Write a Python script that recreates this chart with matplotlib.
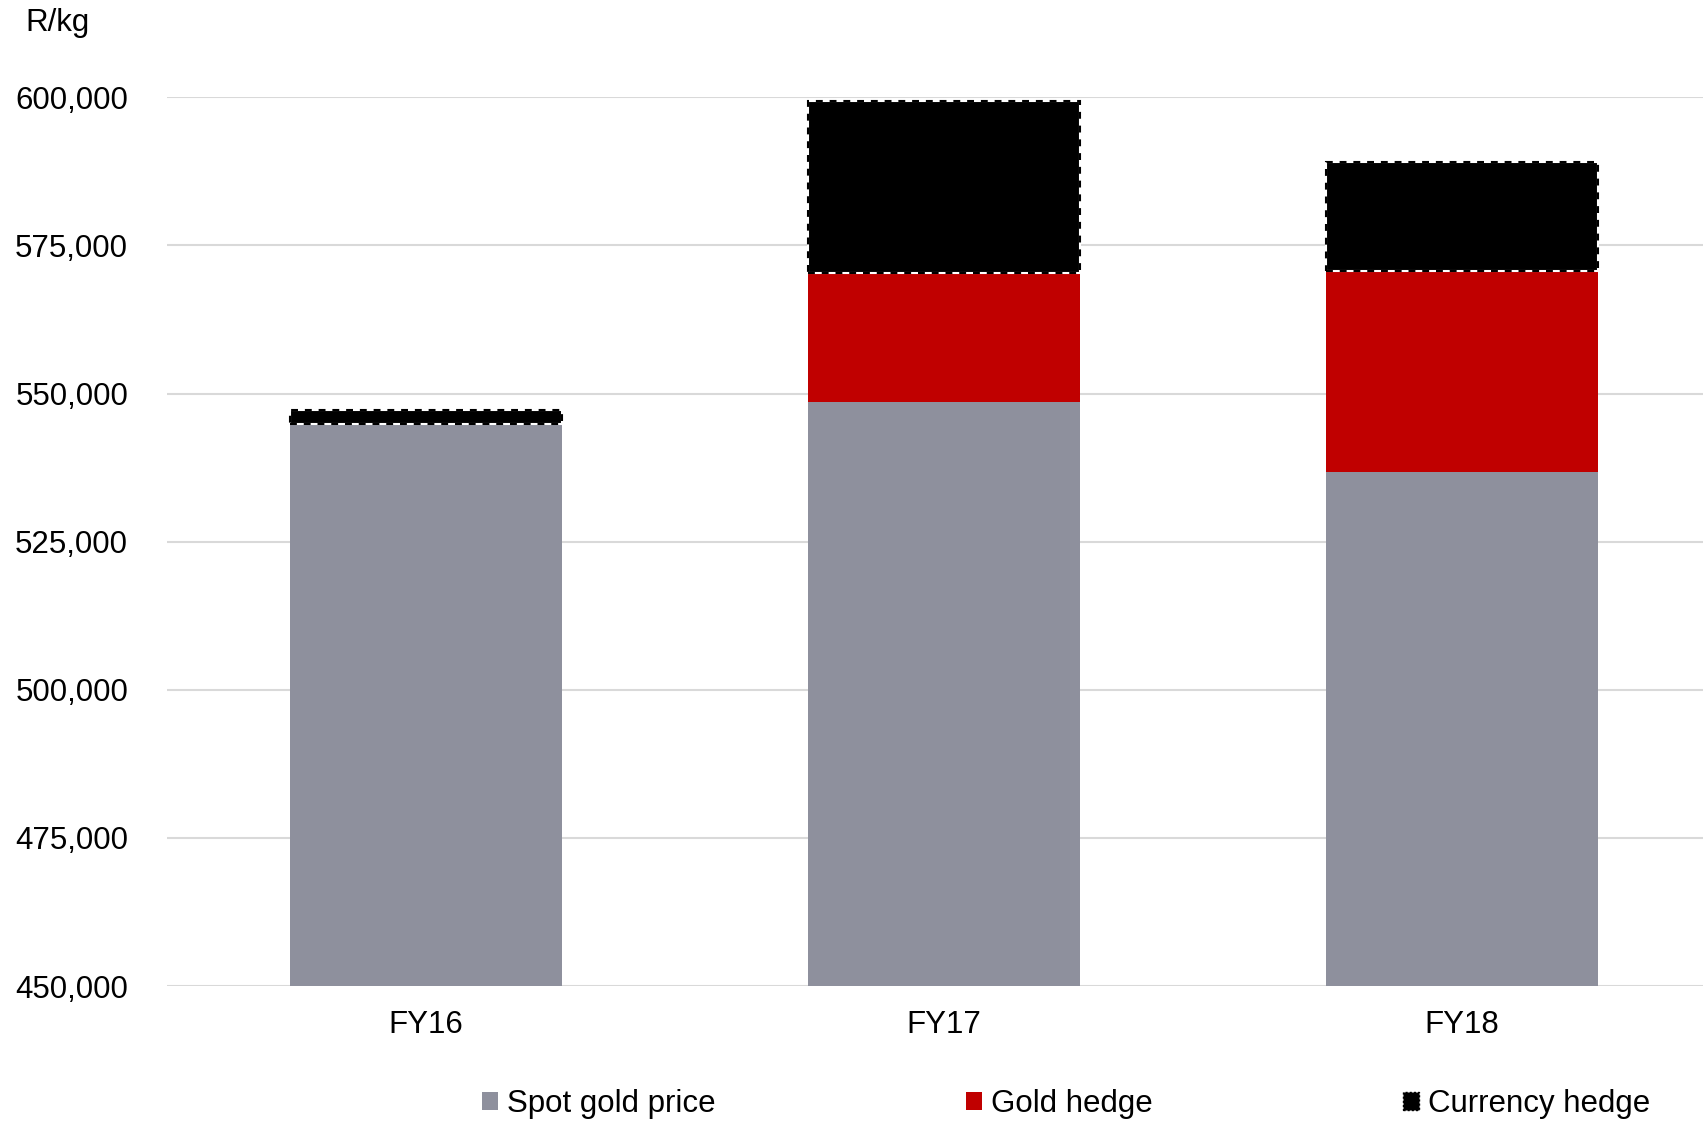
import numpy as np
import matplotlib.pyplot as plt
from matplotlib.patches import Patch

# values (R/kg)
years = ['FY16', 'FY17', 'FY18']
spot_gold = [544800, 548600, 536800]
gold_hedge = [0, 21800, 33900]
currency_hedge = [2500, 29000, 18400]
yticks = [450000, 475000, 500000, 525000, 550000, 575000, 600000]

GREY = '#8E909D'
RED = '#C00000'
GRID = '#D9D9D9'
FS = 22.5

plt.rcParams['font.family'] = ['Liberation Sans', 'DejaVu Sans']

fig = plt.figure(figsize=(17.03, 11.22), dpi=100)
ax = fig.add_axes([167 / 1703, 1 - 986 / 1122, 1 - 167 / 1703, (986 - 97.3) / 1122])

x = np.arange(len(years))
w = 0.525
spot = np.array(spot_gold)
gold = np.array(gold_hedge)
cur = np.array(currency_hedge)

ax.bar(x, spot, w, color=GREY, zorder=2)
ax.bar(x, gold, w, bottom=spot, color=RED, zorder=2)
# currency hedge: black fill, white solid edge under black dashed edge
ax.bar(x, cur, w, bottom=spot + gold, color='black', edgecolor='white', linewidth=1.5, zorder=3)
ax.bar(x, cur, w, bottom=spot + gold, fill=False, edgecolor='black', linewidth=1.5,
       linestyle=(0, (3.3, 3.3)), zorder=4)

ax.set_ylim(450000, 600000)
ax.set_xlim(-0.5, 2.465)
ax.set_yticks(yticks)
ax.set_yticklabels([f'{v:,}' for v in yticks])
ax.set_xticks(x)
ax.set_xticklabels(years)
ax.tick_params(axis='y', length=0, pad=28, labelsize=FS)
ax.tick_params(axis='x', length=0, pad=17, labelsize=FS)
ax.grid(axis='y', color=GRID, linewidth=1.5, zorder=0)
ax.set_axisbelow(True)
for s in ax.spines.values():
    s.set_visible(False)

fig.text(25 / 1703, 1 - 23 / 1122, 'R/kg', fontsize=FS, va='center', ha='left')

handles = [
    Patch(facecolor=GREY, label='Spot gold price'),
    Patch(facecolor=RED, label='Gold hedge'),
    Patch(facecolor='black', edgecolor='black', linestyle=(0, (1.5, 1.5)), label='Currency hedge'),
]
fig.legend(handles=handles, loc='center', bbox_to_anchor=(0.626, 0.016), ncol=3, frameon=False,
           fontsize=FS, handlelength=0.51, handleheight=0.51, handletextpad=0.3,
           columnspacing=8.0, borderpad=0, borderaxespad=0)

fig.savefig('out.png', dpi=100)
